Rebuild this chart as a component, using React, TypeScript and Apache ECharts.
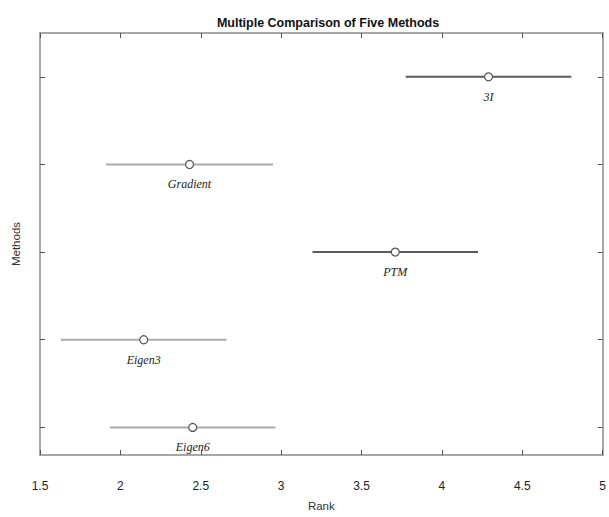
import React, { useEffect, useRef } from "react";
import * as echarts from "echarts";

const methods = ["Eigen6", "Eigen3", "PTM", "Gradient", "3I"];
const means = [2.45, 2.145, 3.71, 2.43, 4.29];
const lower = [1.935, 1.63, 3.195, 1.91, 3.775];
const upper = [2.965, 2.66, 4.225, 2.95, 4.805];
const highlighted = [false, false, true, false, true];
const yPositions = [1, 2, 3, 4, 5];

export default function App() {
  const ref = useRef<HTMLDivElement>(null);
  useEffect(() => {
    if (!ref.current) return;
    const chart = echarts.init(ref.current, null, { renderer: "svg" });
    const data = methods.map((m, i) => [lower[i], means[i], upper[i], yPositions[i], i]);
    const axisLine = { show: true, lineStyle: { color: "#8a8a8a", width: 1.5 } };
    const tickStyle = { color: "#555", width: 1 };
    chart.setOption({
      animation: false,
      title: {
        text: "Multiple Comparison of Five Methods",
        left: 323,
        textAlign: "center",
        top: 11,
        textStyle: { fontFamily: "Liberation Sans", fontWeight: "bold", fontSize: 12.5, color: "#111" },
      },
      grid: { left: 40, right: 5, top: 33, bottom: 57 },
      xAxis: [
        {
          type: "value",
          min: 1.5,
          max: 5,
          interval: 0.5,
          position: "bottom",
          name: "Rank",
          nameLocation: "middle",
          nameGap: 45,
          nameTextStyle: { fontFamily: "Liberation Sans", fontSize: 11.5, color: "#333" },
          axisLine,
          axisTick: { show: true, inside: true, length: 5, lineStyle: tickStyle },
          axisLabel: {
            margin: 25,
            fontFamily: "Liberation Sans",
            fontSize: 12,
            color: "#222",
            formatter: (v: number) => String(v),
          },
          splitLine: { show: false },
        },
        {
          type: "value",
          min: 1.5,
          max: 5,
          interval: 0.5,
          position: "top",
          axisLine,
          axisTick: { show: true, inside: true, length: 5, lineStyle: tickStyle },
          axisLabel: { show: false },
          splitLine: { show: false },
        },
      ],
      yAxis: [
        {
          type: "value",
          min: 0.685,
          max: 5.5,
          position: "left",
          name: "Methods",
          nameLocation: "middle",
          nameGap: 18,
          nameTextStyle: { fontFamily: "Liberation Sans", fontSize: 11.5, color: "#333" },
          axisLine,
          axisTick: { show: true, inside: true, length: 5, lineStyle: tickStyle, customValues: yPositions },
          axisLabel: { show: false, customValues: yPositions },
          splitLine: { show: false },
        },
        {
          type: "value",
          min: 0.685,
          max: 5.5,
          position: "right",
          axisLine,
          axisTick: { show: true, inside: true, length: 5, lineStyle: tickStyle, customValues: yPositions },
          axisLabel: { show: false, customValues: yPositions },
          splitLine: { show: false },
        },
      ],
      series: [
        {
          type: "custom",
          xAxisIndex: 0,
          yAxisIndex: 0,
          data,
          renderItem: (params: any, api: any) => {
            const lo = api.coord([api.value(0), api.value(3)]);
            const mid = api.coord([api.value(1), api.value(3)]);
            const hi = api.coord([api.value(2), api.value(3)]);
            const idx = api.value(4);
            const color = highlighted[idx] ? "#5a5a5a" : "#ababab";
            return {
              type: "group",
              children: [
                {
                  type: "line",
                  shape: { x1: lo[0], y1: lo[1], x2: hi[0], y2: hi[1] },
                  style: { stroke: color, lineWidth: 2 },
                },
                {
                  type: "circle",
                  shape: { cx: mid[0], cy: mid[1], r: 4 },
                  style: { fill: "#fff", stroke: "#555", lineWidth: 1.2 },
                },
                {
                  type: "text",
                  x: mid[0],
                  y: mid[1] + 20,
                  style: {
                    text: methods[idx],
                    fontFamily: "Liberation Serif",
                    fontStyle: "italic",
                    fontSize: 12,
                    fill: "#222",
                    align: "center",
                    verticalAlign: "middle",
                  },
                },
              ],
            };
          },
        },
      ],
    });
    return () => chart.dispose();
  }, []);
  return <div ref={ref} style={{ width: 609, height: 517, position: "absolute", left: 0, top: 0 }} />;
}
